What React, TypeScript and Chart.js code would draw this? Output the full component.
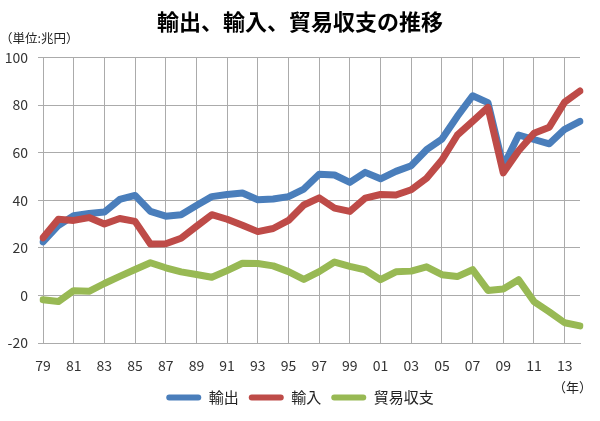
import React, { useEffect, useRef } from "react";
import { Chart, registerables } from "chart.js";

Chart.register(...registerables);

const years: string[] = [
  "79", "80", "81", "82", "83", "84", "85", "86", "87", "88", "89",
  "90", "91", "92", "93", "94", "95", "96", "97", "98", "99",
  "00", "01", "02", "03", "04", "05", "06", "07", "08", "09",
  "10", "11", "12", "13", "14",
];

const exportsData: number[] = [
  22.5, 29.4, 33.5, 34.4, 35.0, 40.3, 42.0, 35.3, 33.3, 33.9, 37.8,
  41.5, 42.4, 43.0, 40.2, 40.5, 41.5, 44.7, 50.9, 50.6, 47.5,
  51.7, 49.0, 52.1, 54.5, 61.2, 65.7, 75.2, 83.9, 81.0, 54.2,
  67.4, 65.5, 63.7, 69.8, 73.1,
];

const importsData: number[] = [
  24.2, 32.0, 31.5, 32.7, 30.0, 32.3, 31.1, 21.6, 21.7, 24.0, 29.0,
  33.9, 32.0, 29.5, 26.8, 28.1, 31.5, 38.0, 41.0, 36.7, 35.3,
  40.9, 42.4, 42.2, 44.4, 49.2, 56.9, 67.3, 73.1, 79.0, 51.5,
  60.8, 68.1, 70.7, 81.2, 85.9,
];

const balanceData: number[] = [
  -1.8, -2.6, 2.0, 1.7, 5.0, 8.0, 10.9, 13.7, 11.6, 9.9, 8.8,
  7.6, 10.4, 13.5, 13.4, 12.4, 10.0, 6.7, 10.0, 14.0, 12.2,
  10.7, 6.6, 9.9, 10.2, 12.0, 8.7, 7.9, 10.8, 2.1, 2.7,
  6.6, -2.6, -6.9, -11.5, -12.8,
];

const seriesNames: string[] = ["輸出", "輸入", "貿易収支"];
const seriesColors: string[] = ["#4A7EBB", "#BE4B48", "#98B954"];
const yTicks: number[] = [-20, 0, 20, 40, 60, 80, 100];

const FONT = "'Noto Sans CJK JP', 'Noto Sans', sans-serif";

export default function App() {
  const ref = useRef<HTMLCanvasElement | null>(null);

  useEffect(() => {
    document.body.style.margin = "0";
    const canvas = ref.current;
    if (!canvas) return;

    const extraText = {
      id: "extraText",
      afterDraw(chart: any) {
        const ctx = chart.ctx;
        ctx.save();
        ctx.fillStyle = "#222";
        ctx.font = `12.5px ${FONT}`;
        ctx.textBaseline = "middle";
        ctx.textAlign = "left";
        ctx.fillText("（単位:兆円）", 0, 38);
        ctx.font = `13px ${FONT}`;
        ctx.textAlign = "right";
        ctx.fillText("（年）", 592, 387);
        ctx.restore();
      },
    };

    const datas = [exportsData, importsData, balanceData];
    const chart = new Chart(canvas, {
      type: "line",
      data: {
        labels: years,
        datasets: datas.map((d, i) => ({
          label: seriesNames[i],
          data: d,
          borderColor: seriesColors[i],
          backgroundColor: seriesColors[i],
          borderWidth: 7,
          pointRadius: 0,
          pointHoverRadius: 0,
          tension: 0,
          borderJoinStyle: "round" as const,
          borderCapStyle: "round" as const,
          order: 3 - i,
          yAxisID: "y",
        })),
      },
      options: {
        animation: false,
        responsive: false,
        maintainAspectRatio: false,
        layout: { padding: { left: 0, right: 0, top: 0, bottom: 6 } },
        plugins: {
          title: {
            display: true,
            text: "輸出、輸入、貿易収支の推移",
            color: "#000",
            font: { family: FONT, size: 22, weight: "bold" },
            padding: { top: 8, bottom: 23 },
          },
          legend: {
            display: true,
            position: "bottom",
            labels: {
              boxWidth: 35,
              boxHeight: 6,
              padding: 10,
              color: "#222",
              font: { family: FONT, size: 15 },
              useBorderRadius: true,
              borderRadius: 3,
              sort: (a: any, b: any) => a.datasetIndex - b.datasetIndex,
              generateLabels: (c: any) =>
                Chart.defaults.plugins.legend.labels
                  .generateLabels(c)
                  .map((l: any) => ({ ...l, lineWidth: 0 })),
            },
          },
          tooltip: { enabled: false },
        },
        scales: {
          x: {
            offset: false,
            grid: {
              color: "#ABABAB",
              lineWidth: 1,
              drawTicks: false,
            },
            border: { color: "#ABABAB" },
            ticks: {
              autoSkip: false,
              maxRotation: 0,
              padding: 14,
              color: "#333",
              font: { family: FONT, size: 14 },
              callback: (_v: any, idx: number) =>
                idx % 2 === 0 && idx < years.length - 1 ? years[idx] : null,
            },
            afterFit: (s: any) => {
              s.height = 37;
            },
          },
          y: {
            position: "left",
            min: -20,
            max: 100,
            afterBuildTicks: (s: any) => {
              s.ticks = yTicks.map((v) => ({ value: v }));
            },
            grid: {
              color: "#ABABAB",
              lineWidth: 1,
              drawTicks: true,
              tickLength: 5,
            },
            border: { color: "#ABABAB" },
            ticks: {
              padding: 10,
              color: "#333",
              font: { family: FONT, size: 14 },
            },
            afterFit: (s: any) => {
              s.width = 43;
            },
          },
          yRight: {
            position: "right",
            display: true,
            min: -20,
            max: 100,
            grid: { display: false, drawTicks: false },
            border: { display: false },
            ticks: { display: false },
            afterFit: (s: any) => {
              s.width = 20;
            },
          },
        },
      },
      plugins: [extraText],
    });

    return () => chart.destroy();
  }, []);

  return (
    <div style={{ width: 600, height: 421 }}>
      <canvas ref={ref} width={600} height={421} style={{ display: "block" }} />
    </div>
  );
}
